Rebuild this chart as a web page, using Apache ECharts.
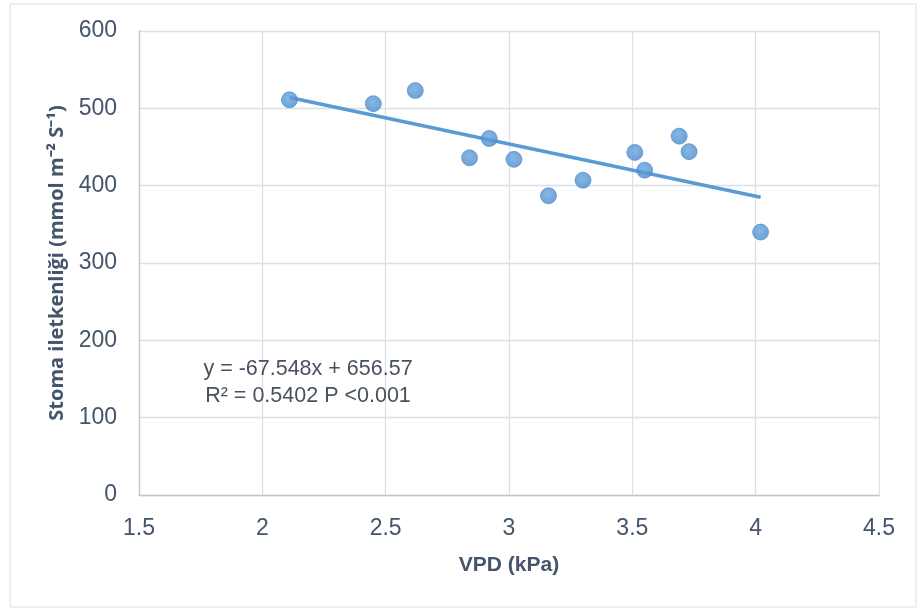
<!DOCTYPE html>
<html>
<head>
<meta charset="utf-8">
<script src="https://cdn.jsdelivr.net/npm/echarts@6/dist/echarts.min.js"></script>
<style>html,body{margin:0;padding:0;background:#fff}#c{width:922px;height:612px}</style>
</head>
<body>
<div id="c"></div>
<script>
// VPD (kPa)
const vpd = [2.11, 2.45, 2.62, 2.84, 2.92, 3.02, 3.16, 3.30, 3.51, 3.55, 3.69, 3.73, 4.02];
// Stoma iletkenliği (mmol m-2 s-1)
const conductance = [511, 506, 523, 436, 461, 434, 387, 407, 443, 420, 464, 444, 340];
// linear trend line endpoints (y = -67.548x + 656.57)
const trendX = [2.11, 4.02];
const trendY = [514, 385];
const xTicks = { min: 1.5, max: 4.5, interval: 0.5 };
const yTicks = { min: 0, max: 600, interval: 100 };
const equationLines = ['y = -67.548x + 656.57', 'R² = 0.5402 P <0.001'];

const txt = '#44546A';
const tickFont = "'Liberation Sans Narrow', 'Liberation Sans', sans-serif";
const chart = echarts.init(document.getElementById('c'), null, { renderer: 'canvas' });
chart.setOption({
  animation: false,
  backgroundColor: '#fff',
  grid: { left: 139, right: 43, top: 31, bottom: 117, containLabel: false },
  xAxis: {
    type: 'value', min: xTicks.min, max: xTicks.max, interval: xTicks.interval,
    name: 'VPD (kPa)', nameLocation: 'middle', nameGap: 60,
    nameTextStyle: { color: txt, fontFamily: tickFont, fontWeight: 'bold', fontSize: 21 },
    axisLine: { show: true, lineStyle: { color: '#BFC6D0', width: 1.3 } },
    axisTick: { show: false },
    axisLabel: { color: txt, fontFamily: tickFont, fontSize: 23, margin: 22 },
    splitLine: { show: true, lineStyle: { color: '#DCE0E6', width: 1.3 } }
  },
  yAxis: {
    type: 'value', min: yTicks.min, max: yTicks.max, interval: yTicks.interval,
    name: 'Stoma iletkenliği (mmol m⁻² S⁻¹)', nameLocation: 'middle', nameGap: 72, nameRotate: 90,
    nameTextStyle: { color: txt, fontFamily: "'Open Sans', sans-serif", fontWeight: 'bold', fontSize: 20 },
    axisLine: { show: true, lineStyle: { color: '#BFC6D0', width: 1.3 } },
    axisTick: { show: false },
    axisLabel: { color: txt, fontFamily: tickFont, fontSize: 23, margin: 22 },
    splitLine: { show: true, lineStyle: { color: '#DCE0E6', width: 1.3 } }
  },
  graphic: [
    { type: 'rect', shape: { x: 10, y: 4, width: 906, height: 603 }, style: { fill: 'none', stroke: '#D9DDE3', lineWidth: 1 }, z: -1 },
    { type: 'text', x: 308, y: 383, style: { text: equationLines.join('\n'), fill: '#48525F', font: "21.5px 'Liberation Sans Narrow', 'Liberation Sans', sans-serif", align: 'center', verticalAlign: 'middle', lineHeight: 27 }, z: 10 }
  ],
  series: [
    {
      type: 'line', data: trendX.map((x, i) => [x, trendY[i]]), showSymbol: false, symbol: 'none',
      lineStyle: { color: '#5B9BD5', width: 3.6 }, z: 2, silent: true
    },
    {
      type: 'scatter', data: vpd.map((x, i) => [x, conductance[i]]), symbol: 'circle', symbolSize: 16,
      itemStyle: {
        color: new echarts.graphic.RadialGradient(0.45, 0.4, 0.6, [
          { offset: 0, color: '#66A5E0' }, { offset: 1, color: '#4A8AC9' }
        ]),
        borderColor: '#4A88C6', borderWidth: 0.8
      },
      z: 3
    }
  ]
});
</script>
</body>
</html>
